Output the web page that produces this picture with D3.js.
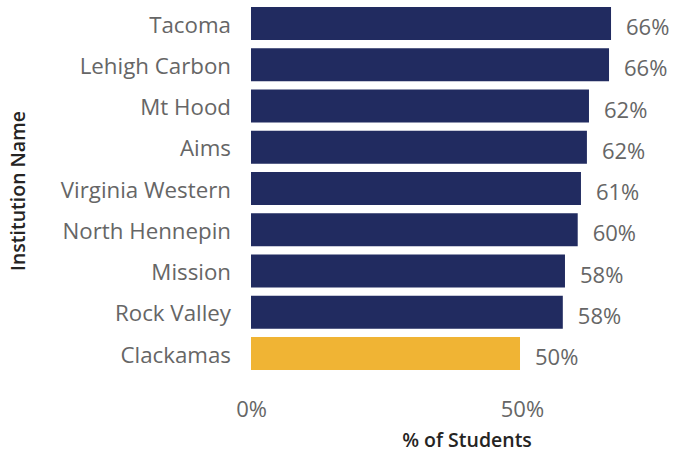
<!DOCTYPE html>
<html>
<head>
<meta charset="utf-8">
<script src="https://cdn.jsdelivr.net/npm/d3@7"></script>
<style>
  body { margin: 0; background: #fff; }
  text { font-family: "Open Sans", "Noto Sans", sans-serif; }
</style>
</head>
<body>
<div id="chart"></div>
<script>
const width = 673;
const height = 453;

// institutions top to bottom
const institutions = ['Tacoma', 'Lehigh Carbon', 'Mt Hood', 'Aims', 'Virginia Western',
    'North Hennepin', 'Mission', 'Rock Valley', 'Clackamas'];
const pctStudents = [0.6645, 0.6608, 0.6238, 0.620, 0.609, 0.603, 0.5795, 0.5755, 0.4965];
const highlight = 'Clackamas';
const xTicks = [0, 0.5];

const navy = '#212b60';
const gold = '#f0b434';
const labelGrey = '#666666';

const data = institutions.map((name, i) => ({ name: name, value: pctStudents[i] }));

const svg = d3.select('#chart').append('svg')
    .attr('width', width)
    .attr('height', height);

const x = d3.scaleLinear()
    .domain([0, 0.5])
    .range([251, 521.9]);

const y = d3.scaleBand()
    .domain(institutions)
    .range([2.875, 374.125])
    .paddingInner(0.2)
    .paddingOuter(0.1);

const fmt = d3.format('.0%');

// bars
svg.selectAll('.bar')
    .data(data)
    .enter()
    .append('rect')
    .attr('class', 'bar')
    .attr('x', x(0))
    .attr('y', d => y(d.name))
    .attr('width', d => x(d.value) - x(0))
    .attr('height', y.bandwidth())
    .attr('fill', d => d.name == highlight ? gold : navy);

// data labels
svg.selectAll('.val')
    .data(data)
    .enter()
    .append('text')
    .attr('class', 'val')
    .attr('x', d => x(d.value) + 15)
    .attr('y', d => y(d.name) + y.bandwidth() / 2 + 11.5)
    .attr('font-size', 22)
    .attr('fill', labelGrey)
    .text(d => fmt(d.value));

// category axis
const yAxis = svg.append('g')
    .attr('transform', 'translate(231,0)')
    .call(d3.axisLeft(y).tickSize(0).tickPadding(0));
yAxis.select('.domain').remove();
yAxis.selectAll('text')
    .attr('font-family', null)
    .attr('font-size', 22.3)
    .attr('fill', labelGrey)
    .attr('dy', 9);

// value axis
const xAxis = svg.append('g')
    .call(d3.axisBottom(x).tickValues(xTicks).tickFormat(fmt).tickSize(0).tickPadding(0));
xAxis.select('.domain').remove();
xAxis.selectAll('text')
    .attr('font-family', null)
    .attr('font-size', 22)
    .attr('fill', labelGrey)
    .attr('y', 417)
    .attr('dy', 0);

// axis titles
svg.append('text')
    .attr('x', 467)
    .attr('y', 447)
    .attr('text-anchor', 'middle')
    .attr('font-size', 19.5)
    .attr('font-weight', 600)
    .attr('fill', '#252423')
    .text('% of Students');

svg.append('text')
    .attr('transform', 'translate(25,191) rotate(-90)')
    .attr('text-anchor', 'middle')
    .attr('font-size', 19.5)
    .attr('font-weight', 600)
    .attr('fill', '#252423')
    .text('Institution Name');
</script>
</body>
</html>
